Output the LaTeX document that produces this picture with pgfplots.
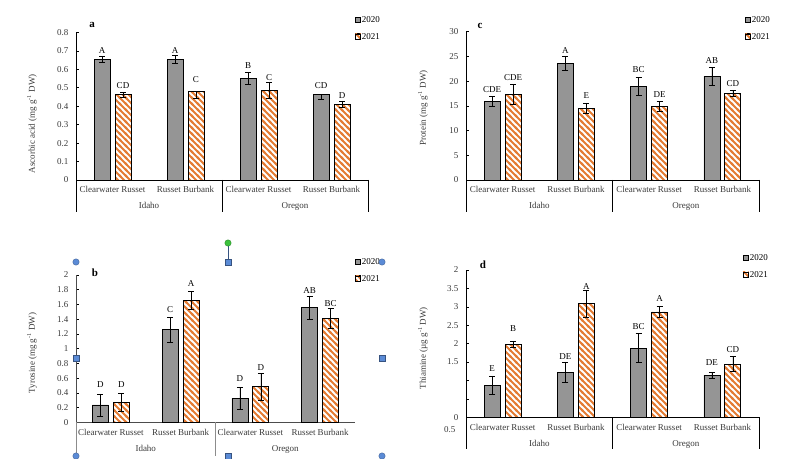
\documentclass[border=0pt]{standalone}
\usepackage{fontspec}
\setmainfont{Liberation Serif}
\usepackage{pgfplots}
\pgfplotsset{compat=1.18}
\usepackage{pgfplotstable}
\usetikzlibrary{patterns}

\definecolor{bargray}{HTML}{959595}
\definecolor{stripe}{RGB}{228,124,52}
\definecolor{ticktext}{HTML}{3A3A3A}
\definecolor{handle}{HTML}{5B8BD6}
\definecolor{handlegreen}{HTML}{3CC23C}

% thick diagonal stripes running from upper left to lower right
\pgfdeclarepatternformonly{bstripes}{\pgfqpoint{-1pt}{-1pt}}{\pgfqpoint{7pt}{7pt}}{\pgfqpoint{6pt}{6pt}}{%
  \pgfsetlinewidth{1.8pt}%
  \pgfpathmoveto{\pgfqpoint{-1pt}{7pt}}\pgfpathlineto{\pgfqpoint{7pt}{-1pt}}%
  \pgfpathmoveto{\pgfqpoint{-1pt}{1pt}}\pgfpathlineto{\pgfqpoint{1pt}{-1pt}}%
  \pgfpathmoveto{\pgfqpoint{5pt}{7pt}}\pgfpathlineto{\pgfqpoint{7pt}{5pt}}%
  \pgfusepath{stroke}}

% columns: category, mean, error up, error down, letter position, letter
\pgfplotstableread{
x y ep em ly lbl
0 0.654 0.015 0.015 0.699 A
1 0.652 0.022 0.022 0.699 A
2 0.549 0.033 0.033 0.619 B
3 0.462 0 0.023 0.511 CD
}\ascA
\pgfplotstableread{
x y ep em ly lbl
0 0.462 0.012 0.012 0.509 CD
1 0.480 0 0.040 0.542 C
2 0.486 0.045 0.045 0.556 C
3 0.410 0.018 0.018 0.457 D
}\ascB
\pgfplotstableread{
x y ep em ly lbl
0 15.9 1.0 1.0 18.34 CDE
1 23.6 1.35 1.35 26.16 A
2 18.95 1.8 1.8 22.25 BC
3 20.97 1.75 1.75 24.07 AB
}\proA
\pgfplotstableread{
x y ep em ly lbl
0 17.3 2.05 2.05 20.7 CDE
1 14.5 0.95 0.95 17.0 E
2 14.9 1.0 1.0 17.26 DE
3 17.5 0.6 0.6 19.42 CD
}\proB
\pgfplotstableread{
x y ep em ly lbl
0 0.235 0.15 0.15 0.507 D
1 1.258 0.17 0.17 1.525 C
2 0.326 0.155 0.155 0.588 D
3 1.557 0.155 0.155 1.783 AB
}\tyrA
\pgfplotstableread{
x y ep em ly lbl
0 0.27 0.12 0.12 0.507 D
1 1.656 0.12 0.12 1.887 A
2 0.484 0.18 0.18 0.747 D
3 1.41 0.135 0.135 1.615 BC
}\tyrB
\pgfplotstableread{
x y ep em ly lbl
0 0.873 0.25 0.25 1.336 E
1 1.227 0.28 0.28 1.636 DE
2 1.88 0.39 0.39 2.473 BC
3 1.145 0.075 0.075 1.473 DE
}\thiA
\pgfplotstableread{
x y ep em ly lbl
0 1.99 0.08 0.08 2.41 B
1 3.08 0.36 0.36 3.545 A
2 2.86 0.155 0.155 3.227 A
3 1.445 0.2 0.2 1.836 CD
}\thiB

\newcommand{\nf}{\fontsize{9}{10}\selectfont}

\tikzset{
  sepline/.style={black, line width=0.6pt},
  grplabel/.style={anchor=base, font=\nf, text=ticktext, yshift=-29pt},
}

\pgfplotsset{
  panel/.style={
    scale only axis, ybar, bar width=16pt,
    xmin=-0.5, xmax=3.5, ymin=0, clip=false,
    axis x line*=bottom, axis y line*=left,
    axis line style={black, line width=0.6pt},
    xtick={0,1,2,3},
    xticklabels={Clearwater Russet, Russet Burbank, Clearwater Russet, Russet Burbank},
    x tick style={draw=none},
    y tick style={black, line width=0.5pt},
    tick align=inside, major tick length=3pt,
    tick label style={font=\nf, text=ticktext},
    /pgf/number format/assume math mode=true,
    xticklabel style={anchor=base, yshift=-13pt},
    yticklabel style={xshift=-4pt},
    ylabel style={font=\nf, text=ticktext, anchor=center},
    legend style={draw=none, fill=none, font=\nf, inner sep=0pt,
      nodes={inner sep=1pt, text height=6.5pt, text depth=0pt},
      row sep=8.5pt, legend cell align=left},
    legend image code/.code={\draw[#1, line width=0.5pt] (0pt,-2.6pt) rectangle (5.2pt,2.6pt);},
  },
  errs/.style={error bars/.cd, y dir=both, y explicit,
    error bar style={black, line width=0.6pt},
    error mark options={black, rotate=90, mark size=3pt, line width=0.6pt}},
  yrA/.style={fill=bargray, draw=black, line width=0.7pt, bar shift=-10.5pt, errs},
  yrB/.style={preaction={fill=white}, pattern=bstripes, pattern color=stripe,
    draw=black, line width=0.8pt, bar shift=10.5pt, errs},
  letters/.style={draw=none, fill=none, forget plot, bar shift=#1,
    nodes near coords, point meta=explicit symbolic,
    every node near coord/.append style={anchor=center, font=\nf, text=black, inner sep=0pt}},
}

\begin{document}
\begin{tikzpicture}
\useasboundingbox (0pt,0pt) rectangle (794pt,458pt);

% ---------- a: ascorbic acid ----------
\begin{axis}[panel, at={(76pt,278pt)}, anchor=south west, width=292pt, height=147.7pt,
  ymax=0.8, ytick={0,0.1,...,0.8},
  yticklabel style={/pgf/number format/.cd, fixed, precision=1},
  ylabel={Ascorbic acid (mg g\textsuperscript{-1} DW)},
  ylabel style={at={(axis description cs:-0.151,0.38)}},
  legend style={at={(axis description cs:0.955,1.117)}, anchor=north west}]
\addplot[yrA] table[x=x, y=y, y error plus=ep, y error minus=em] {\ascA};
\addplot[yrB] table[x=x, y=y, y error plus=ep, y error minus=em] {\ascB};
\addplot[letters=-10.5pt] table[x=x, y=ly, meta=lbl] {\ascA};
\addplot[letters=10.5pt] table[x=x, y=ly, meta=lbl] {\ascB};
\legend{2020, 2021}
\draw[sepline] (axis cs:-0.5,0) -- ++(0pt,-32pt);
\draw[sepline] (axis cs:1.5,0) -- ++(0pt,-32pt);
\draw[sepline] (axis cs:3.5,0) -- ++(0pt,-32pt);
\node[grplabel] at (axis cs:0.5,0) {Idaho};
\node[grplabel] at (axis cs:2.5,0) {Oregon};
\end{axis}

% ---------- c: protein ----------
\begin{axis}[panel, at={(466pt,278pt)}, anchor=south west, width=293pt, height=148.3pt,
  ymax=30, ytick={0,5,...,30},
  ylabel={Protein (mg g\textsuperscript{-1} DW)},
  ylabel style={at={(axis description cs:-0.147,0.486)}},
  legend style={at={(axis description cs:0.952,1.113)}, anchor=north west}]
\addplot[yrA] table[x=x, y=y, y error plus=ep, y error minus=em] {\proA};
\addplot[yrB] table[x=x, y=y, y error plus=ep, y error minus=em] {\proB};
\addplot[letters=-10.5pt] table[x=x, y=ly, meta=lbl] {\proA};
\addplot[letters=10.5pt] table[x=x, y=ly, meta=lbl] {\proB};
\legend{2020, 2021}
\draw[sepline] (axis cs:-0.5,0) -- ++(0pt,-32pt);
\draw[sepline] (axis cs:1.5,0) -- ++(0pt,-32pt);
\draw[sepline] (axis cs:3.5,0) -- ++(0pt,-32pt);
\node[grplabel] at (axis cs:0.5,0) {Idaho};
\node[grplabel] at (axis cs:2.5,0) {Oregon};
\end{axis}

% ---------- b: tyrosine ----------
\begin{axis}[panel, at={(76pt,35.7pt)}, anchor=south west, width=279pt, height=147.3pt,
  ymax=2, ytick={0,0.2,...,2},
  axis line style={black!70, line width=0.6pt},
  ylabel={Tyrosine (mg g\textsuperscript{-1} DW)},
  ylabel style={at={(axis description cs:-0.158,0.47)}},
  legend style={at={(axis description cs:1.0,1.122)}, anchor=north west}]
\addplot[yrA] table[x=x, y=y, y error plus=ep, y error minus=em] {\tyrA};
\addplot[yrB] table[x=x, y=y, y error plus=ep, y error minus=em] {\tyrB};
\addplot[letters=-10.5pt] table[x=x, y=ly, meta=lbl] {\tyrA};
\addplot[letters=10.5pt] table[x=x, y=ly, meta=lbl] {\tyrB};
\legend{2020, 2021}
\draw[black!45, line width=0.6pt] (axis cs:-0.5,0) -- ++(0pt,-34pt);
\draw[black!45, line width=0.6pt] (axis cs:1.5,0) -- ++(0pt,-34pt);
\node[grplabel] at (axis cs:0.5,0) {Idaho};
\node[grplabel] at (axis cs:2.5,0) {Oregon};
\end{axis}

% ---------- d: thiamine ----------
\begin{axis}[panel, at={(466pt,40.7pt)}, anchor=south west, width=293pt, height=147.3pt,
  ymax=4, ytick={0,0.5,...,4},
  yticklabels={0,,,1.5,2,2.5,3,3.5,2},
  ylabel={Thiamine (\textmu g g\textsuperscript{-1} DW)},
  ylabel style={at={(axis description cs:-0.147,0.47)}},
  legend style={at={(axis description cs:0.945,1.115)}, anchor=north west}]
\addplot[yrA] table[x=x, y=y, y error plus=ep, y error minus=em] {\thiA};
\addplot[yrB] table[x=x, y=y, y error plus=ep, y error minus=em] {\thiB};
\addplot[letters=-10.5pt] table[x=x, y=ly, meta=lbl] {\thiA};
\addplot[letters=10.5pt] table[x=x, y=ly, meta=lbl] {\thiB};
\legend{2020, 2021}
\draw[sepline] (axis cs:-0.5,0) -- ++(0pt,-32pt);
\draw[sepline] (axis cs:1.5,0) -- ++(0pt,-32pt);
\draw[sepline] (axis cs:3.5,0) -- ++(0pt,-32pt);
\node[anchor=east, font=\nf, text=ticktext, xshift=-7pt, yshift=-12pt] at (axis cs:-0.5,0) {0.5};
\node[grplabel] at (axis cs:0.5,0) {Idaho};
\node[grplabel] at (axis cs:2.5,0) {Oregon};
\end{axis}

% panel letters
\node[font=\fontsize{11}{12}\selectfont\bfseries] at (92pt,433pt) {a};
\node[font=\fontsize{11}{12}\selectfont\bfseries] at (480pt,432pt) {c};
\node[font=\fontsize{11}{12}\selectfont\bfseries] at (95pt,185pt) {b};
\node[font=\fontsize{11}{12}\selectfont\bfseries] at (483pt,193pt) {d};

% selection frame handles around panel b
\draw[handle!60!black, line width=0.6pt] (228pt,215pt) -- (228pt,196pt);
\foreach \p in {(76pt,196pt),(382pt,196pt),(76pt,2pt),(382pt,2pt)} {\filldraw[fill=handle, draw=handle!70!black, line width=0.4pt] \p circle (3.2pt);}
\foreach \p in {(228pt,196pt),(76pt,100pt),(382pt,100pt),(228pt,2pt)} {\filldraw[fill=handle, draw=handle!60!black, line width=0.4pt] \p ++(-3.2pt,-3.2pt) rectangle ++(6.4pt,6.4pt);}
\filldraw[fill=handlegreen, draw=handlegreen!70!black, line width=0.4pt] (228pt,215pt) circle (3.2pt);
\end{tikzpicture}
\end{document}
